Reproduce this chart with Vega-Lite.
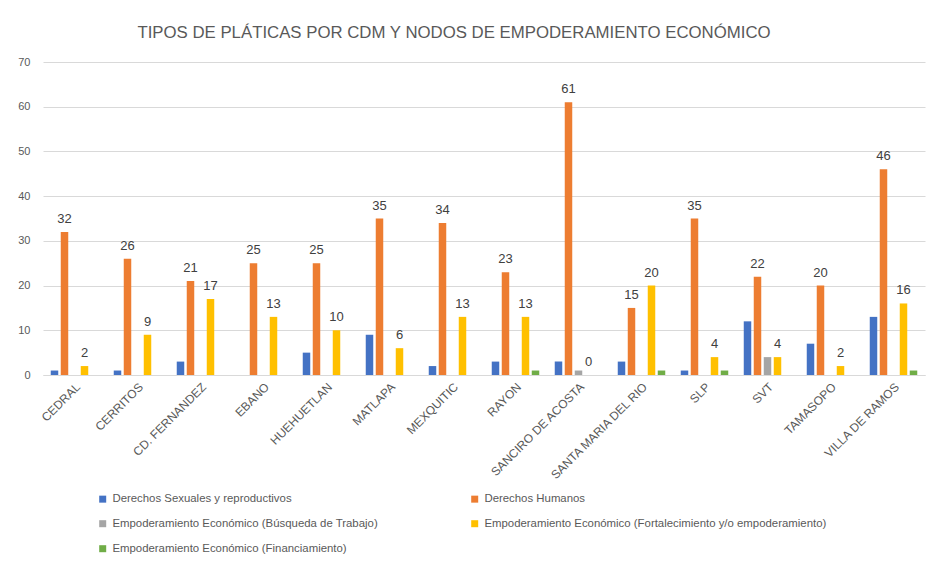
{
  "$schema": "https://vega.github.io/schema/vega-lite/v6.json",
  "autosize": {"type": "none"},
  "width": 882,
  "height": 313,
  "padding": {"left": 43, "top": 62, "right": 3, "bottom": 191},
  "background": "white",
  "title": {
    "text": "TIPOS DE PLÁTICAS POR CDM Y NODOS DE EMPODERAMIENTO ECONÓMICO",
    "fontSize": 16.8,
    "font": "Liberation Sans",
    "fontWeight": "normal",
    "color": "#595959",
    "anchor": "middle",
    "dx": -30,
    "offset": 14
  },
  "config": {
    "font": "Liberation Sans",
    "view": {"stroke": null}
  },
  "data": {
    "values": [
      {"m": "CEDRAL", "s": "Derechos Sexuales y reproductivos", "v": 1},
      {"m": "CEDRAL", "s": "Derechos Humanos", "v": 32},
      {"m": "CEDRAL", "s": "Empoderamiento Económico (Fortalecimiento y/o empoderamiento)", "v": 2},
      {"m": "CERRITOS", "s": "Derechos Sexuales y reproductivos", "v": 1},
      {"m": "CERRITOS", "s": "Derechos Humanos", "v": 26},
      {"m": "CERRITOS", "s": "Empoderamiento Económico (Fortalecimiento y/o empoderamiento)", "v": 9},
      {"m": "CD. FERNANDEZ", "s": "Derechos Sexuales y reproductivos", "v": 3},
      {"m": "CD. FERNANDEZ", "s": "Derechos Humanos", "v": 21},
      {"m": "CD. FERNANDEZ", "s": "Empoderamiento Económico (Fortalecimiento y/o empoderamiento)", "v": 17},
      {"m": "EBANO", "s": "Derechos Humanos", "v": 25},
      {"m": "EBANO", "s": "Empoderamiento Económico (Fortalecimiento y/o empoderamiento)", "v": 13},
      {"m": "HUEHUETLAN", "s": "Derechos Sexuales y reproductivos", "v": 5},
      {"m": "HUEHUETLAN", "s": "Derechos Humanos", "v": 25},
      {"m": "HUEHUETLAN", "s": "Empoderamiento Económico (Fortalecimiento y/o empoderamiento)", "v": 10},
      {"m": "MATLAPA", "s": "Derechos Sexuales y reproductivos", "v": 9},
      {"m": "MATLAPA", "s": "Derechos Humanos", "v": 35},
      {"m": "MATLAPA", "s": "Empoderamiento Económico (Fortalecimiento y/o empoderamiento)", "v": 6},
      {"m": "MEXQUITIC", "s": "Derechos Sexuales y reproductivos", "v": 2},
      {"m": "MEXQUITIC", "s": "Derechos Humanos", "v": 34},
      {"m": "MEXQUITIC", "s": "Empoderamiento Económico (Fortalecimiento y/o empoderamiento)", "v": 13},
      {"m": "RAYON", "s": "Derechos Sexuales y reproductivos", "v": 3},
      {"m": "RAYON", "s": "Derechos Humanos", "v": 23},
      {"m": "RAYON", "s": "Empoderamiento Económico (Fortalecimiento y/o empoderamiento)", "v": 13},
      {"m": "RAYON", "s": "Empoderamiento Económico (Financiamiento)", "v": 1},
      {"m": "SANCIRO DE ACOSTA", "s": "Derechos Sexuales y reproductivos", "v": 3},
      {"m": "SANCIRO DE ACOSTA", "s": "Derechos Humanos", "v": 61},
      {"m": "SANCIRO DE ACOSTA", "s": "Empoderamiento Económico (Búsqueda de Trabajo)", "v": 1},
      {"m": "SANCIRO DE ACOSTA", "s": "Empoderamiento Económico (Fortalecimiento y/o empoderamiento)", "v": 0},
      {"m": "SANTA MARIA DEL RIO", "s": "Derechos Sexuales y reproductivos", "v": 3},
      {"m": "SANTA MARIA DEL RIO", "s": "Derechos Humanos", "v": 15},
      {"m": "SANTA MARIA DEL RIO", "s": "Empoderamiento Económico (Fortalecimiento y/o empoderamiento)", "v": 20},
      {"m": "SANTA MARIA DEL RIO", "s": "Empoderamiento Económico (Financiamiento)", "v": 1},
      {"m": "SLP", "s": "Derechos Sexuales y reproductivos", "v": 1},
      {"m": "SLP", "s": "Derechos Humanos", "v": 35},
      {"m": "SLP", "s": "Empoderamiento Económico (Fortalecimiento y/o empoderamiento)", "v": 4},
      {"m": "SLP", "s": "Empoderamiento Económico (Financiamiento)", "v": 1},
      {"m": "SVT", "s": "Derechos Sexuales y reproductivos", "v": 12},
      {"m": "SVT", "s": "Derechos Humanos", "v": 22},
      {"m": "SVT", "s": "Empoderamiento Económico (Búsqueda de Trabajo)", "v": 4},
      {"m": "SVT", "s": "Empoderamiento Económico (Fortalecimiento y/o empoderamiento)", "v": 4},
      {"m": "TAMASOPO", "s": "Derechos Sexuales y reproductivos", "v": 7},
      {"m": "TAMASOPO", "s": "Derechos Humanos", "v": 20},
      {"m": "TAMASOPO", "s": "Empoderamiento Económico (Fortalecimiento y/o empoderamiento)", "v": 2},
      {"m": "VILLA DE RAMOS", "s": "Derechos Sexuales y reproductivos", "v": 13},
      {"m": "VILLA DE RAMOS", "s": "Derechos Humanos", "v": 46},
      {"m": "VILLA DE RAMOS", "s": "Empoderamiento Económico (Fortalecimiento y/o empoderamiento)", "v": 16},
      {"m": "VILLA DE RAMOS", "s": "Empoderamiento Económico (Financiamiento)", "v": 1}
    ]
  },
  "encoding": {
    "x": {
      "field": "m",
      "type": "nominal",
      "sort": null,
      "scale": {"paddingInner": 0.246, "paddingOuter": 0.123},
      "axis": {
        "title": null,
        "labelAngle": -45,
        "labelFontSize": 12,
        "labelColor": "#595959",
        "labelPadding": 6,
        "ticks": false,
        "domainColor": "#D9D9D9",
        "labelLimit": 200
      }
    },
    "xOffset": {
      "field": "s",
      "type": "nominal",
      "scale": {
        "domain": [
          "Derechos Sexuales y reproductivos",
          "Derechos Humanos",
          "Empoderamiento Económico (Búsqueda de Trabajo)",
          "Empoderamiento Económico (Fortalecimiento y/o empoderamiento)",
          "Empoderamiento Económico (Financiamiento)"
        ],
        "paddingInner": 0.25,
        "paddingOuter": 0
      }
    },
    "y": {
      "field": "v",
      "type": "quantitative",
      "scale": {"domain": [0, 70]},
      "axis": {
        "title": null,
        "values": [0, 10, 20, 30, 40, 50, 60, 70],
        "domain": false,
        "ticks": false,
        "labelFontSize": 11,
        "labelColor": "#595959",
        "labelPadding": 13,
        "gridColor": "#D9D9D9"
      }
    }
  },
  "layer": [
    {
      "mark": {"type": "bar"},
      "encoding": {
        "color": {
          "field": "s",
          "type": "nominal",
          "scale": {
            "domain": [
              "Derechos Sexuales y reproductivos",
              "Derechos Humanos",
              "Empoderamiento Económico (Búsqueda de Trabajo)",
              "Empoderamiento Económico (Fortalecimiento y/o empoderamiento)",
              "Empoderamiento Económico (Financiamiento)"
            ],
            "range": ["#4472C4", "#ED7D31", "#A5A5A5", "#FFC000", "#70AD47"]
          },
          "legend": {
            "title": null,
            "orient": "none",
            "legendX": 54,
            "legendY": 431,
            "columns": 2,
            "direction": "horizontal",
            "columnPadding": 91,
            "rowPadding": 12,
            "symbolType": "square",
            "symbolSize": 49,
            "symbolStrokeWidth": 0,
            "labelFontSize": 11.4,
            "labelColor": "#595959",
            "labelLimit": 500,
            "gridAlign": "each"
          }
        }
      }
    },
    {
      "transform": [
        {"filter": "datum.s === 'Derechos Humanos' || datum.s === 'Empoderamiento Económico (Fortalecimiento y/o empoderamiento)'"}
      ],
      "mark": {"type": "text", "baseline": "bottom", "dy": -6, "fontSize": 13, "color": "#404040"},
      "encoding": {
        "text": {"field": "v", "type": "quantitative"}
      }
    }
  ]
}
